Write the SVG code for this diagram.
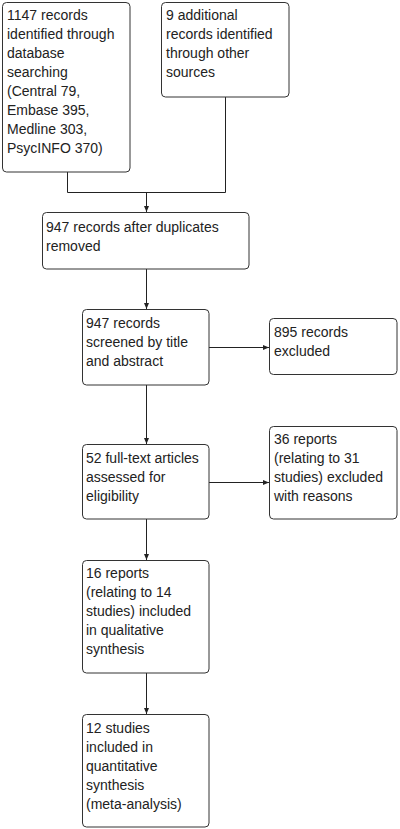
<svg xmlns="http://www.w3.org/2000/svg" width="400" height="829" viewBox="0 0 400 829">
<style>
.box{fill:#fff;stroke:#333;stroke-width:1}
text{font-family:"Liberation Sans",Arial,sans-serif;font-size:14px;fill:#222}
.c{fill:none;stroke:#222;stroke-width:1}
</style>
<defs>
<marker id="ah" markerWidth="6" markerHeight="6" refX="6" refY="3" orient="auto" markerUnits="userSpaceOnUse">
<path d="M0,0.5 L6,3 L0,5.5 z" fill="#222"/>
</marker>
</defs>
<rect width="400" height="829" fill="#fff"/>
<g id="connectors">
<path class="c" d="M67.5,172 V192.5 H225.5 V97"/>
<path class="c" d="M146.5,192.5 V212" marker-end="url(#ah)"/>
<path class="c" d="M146.5,269 V309" marker-end="url(#ah)"/>
<path class="c" d="M209,347.5 H269" marker-end="url(#ah)"/>
<path class="c" d="M146.5,385 V444" marker-end="url(#ah)"/>
<path class="c" d="M209,482.5 H269" marker-end="url(#ah)"/>
<path class="c" d="M146.5,519 V560" marker-end="url(#ah)"/>
<path class="c" d="M146.5,673 V714" marker-end="url(#ah)"/>
</g>
<g id="n1"><rect class="box" x="2.5" y="2.5" width="127.5" height="169.5" rx="4"/>
<text x="7" y="20">1147 records</text><text x="7" y="39">identified through</text><text x="7" y="58">database</text><text x="7" y="77">searching</text><text x="7" y="96">(Central 79,</text><text x="7" y="115">Embase 395,</text><text x="7" y="134">Medline 303,</text><text x="7" y="153">PsycINFO 370)</text></g>
<g id="n2"><rect class="box" x="161.5" y="2.5" width="127.5" height="94.5" rx="4"/>
<text x="166" y="20">9 additional</text><text x="166" y="39">records identified</text><text x="166" y="58">through other</text><text x="166" y="77">sources</text></g>
<g id="n3"><rect class="box" x="42.5" y="212.5" width="206.5" height="56.5" rx="4"/>
<text x="46" y="232">947 records after duplicates</text><text x="46" y="251">removed</text></g>
<g id="n4"><rect class="box" x="82.5" y="309.5" width="126.5" height="75.5" rx="4"/>
<text x="86" y="328">947 records</text><text x="86" y="347">screened by title</text><text x="86" y="366">and abstract</text></g>
<g id="n5"><rect class="box" x="269.5" y="318.5" width="127.5" height="56" rx="4"/>
<text x="274" y="337">895 records</text><text x="274" y="356">excluded</text></g>
<g id="n6"><rect class="box" x="82.5" y="444.5" width="126.5" height="74.5" rx="4"/>
<text x="86" y="463">52 full-text articles</text><text x="86" y="482">assessed for</text><text x="86" y="501">eligibility</text></g>
<g id="n7"><rect class="box" x="269.5" y="426.5" width="127.5" height="92.5" rx="4"/>
<text x="274" y="444">36 reports</text><text x="274" y="463">(relating to 31</text><text x="274" y="482">studies) excluded</text><text x="274" y="501">with reasons</text></g>
<g id="n8"><rect class="box" x="82.5" y="560.5" width="126.5" height="112.5" rx="4"/>
<text x="86" y="578">16 reports</text><text x="86" y="597">(relating to 14</text><text x="86" y="616">studies) included</text><text x="86" y="635">in qualitative</text><text x="86" y="654">synthesis</text></g>
<g id="n9"><rect class="box" x="82.5" y="714.5" width="126.5" height="112.5" rx="4"/>
<text x="86" y="733">12 studies</text><text x="86" y="752">included in</text><text x="86" y="771">quantitative</text><text x="86" y="790">synthesis</text><text x="86" y="809">(meta-analysis)</text></g>
</svg>
